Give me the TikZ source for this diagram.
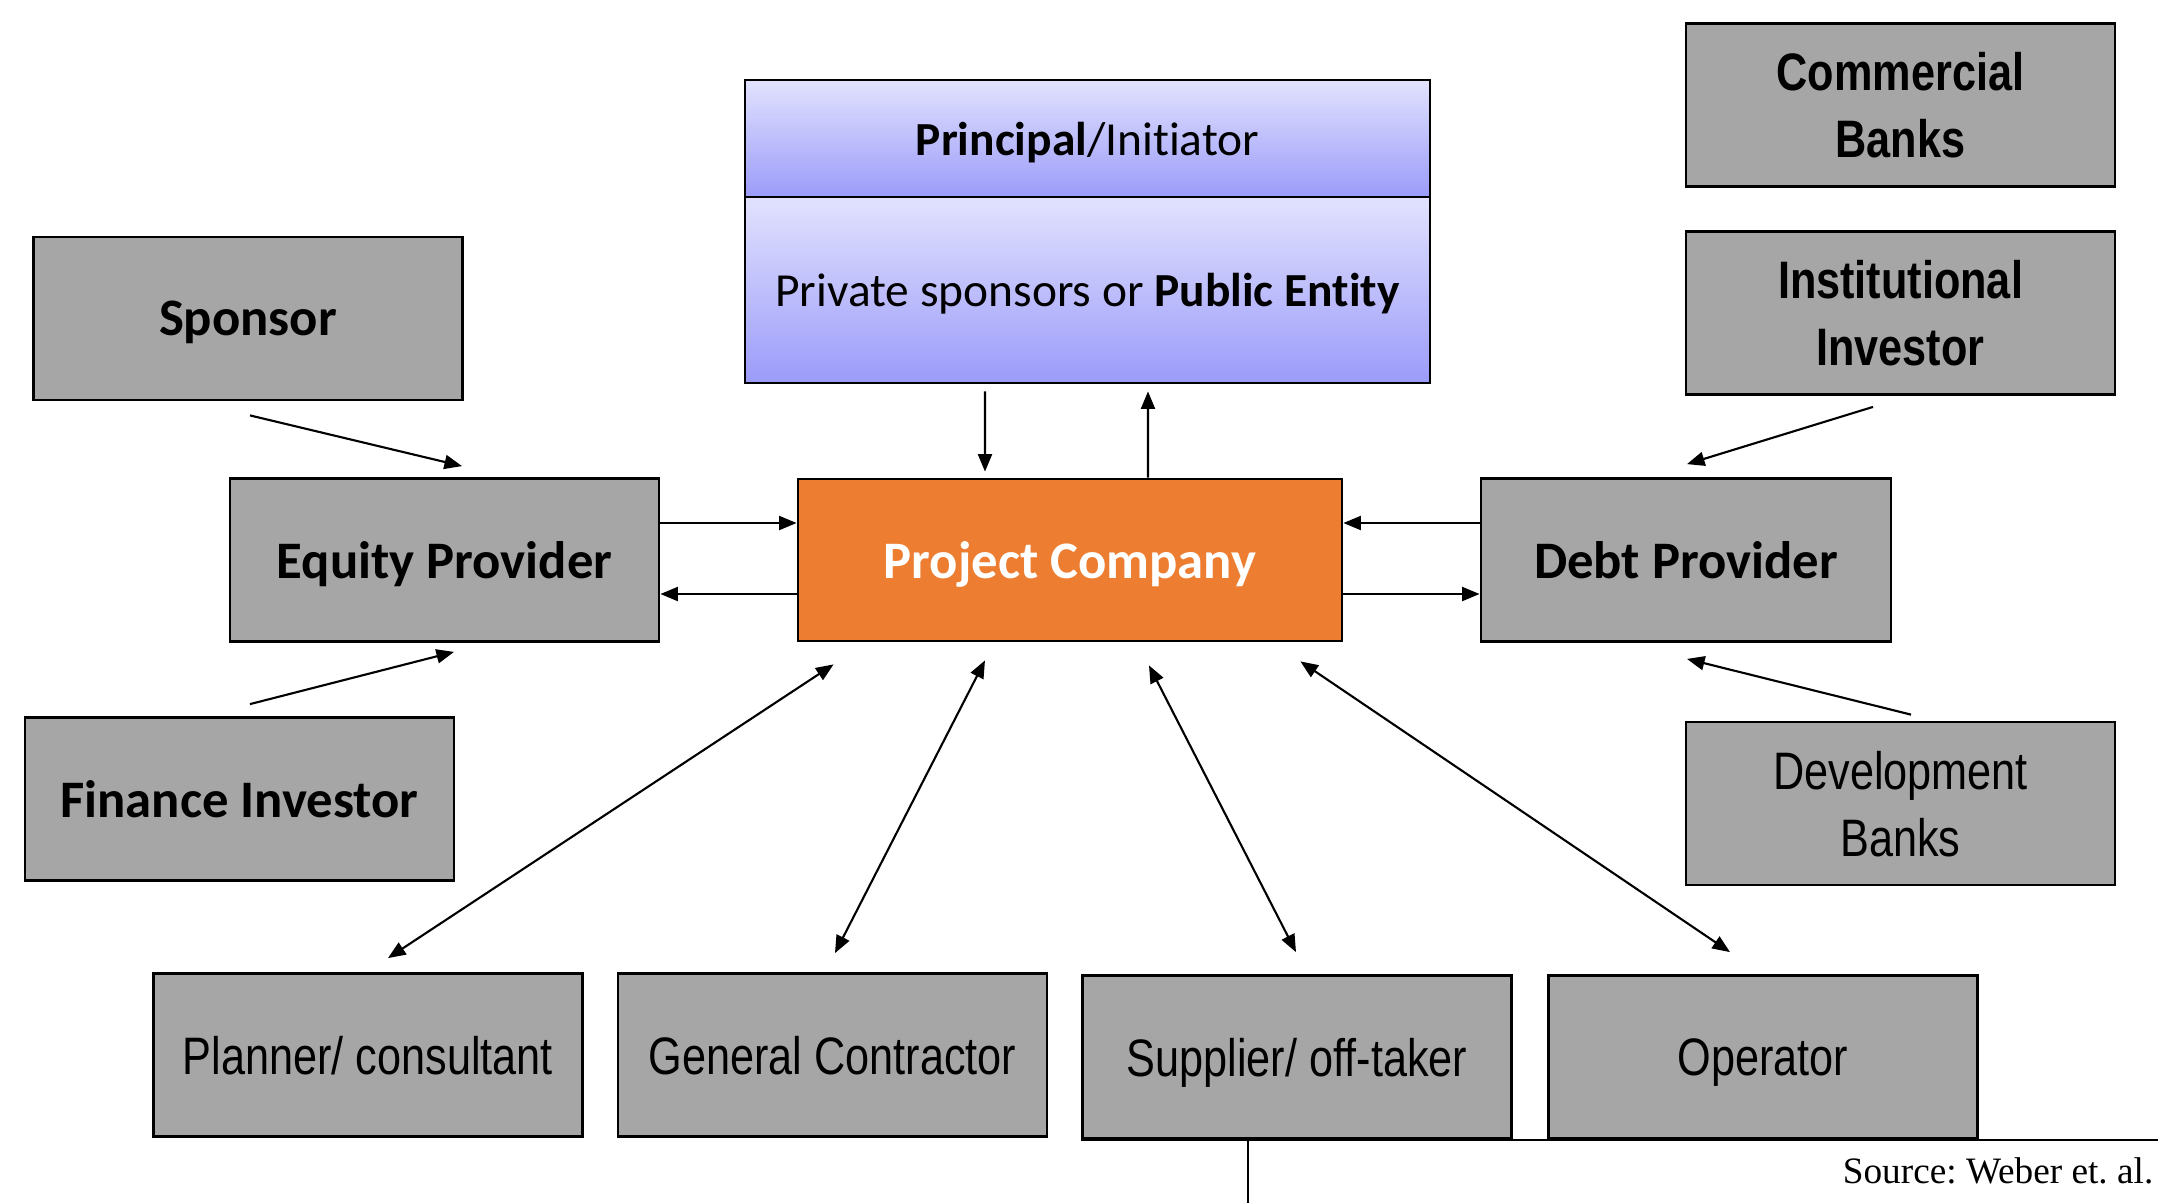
\documentclass[tikz,border=0pt]{standalone}
\usepackage{fontspec}
\setmainfont{Carlito}[Ligatures=NoCommon]
\newfontfamily\narrowfont[FakeStretch=0.82]{Liberation Sans}
\newfontfamily\sourcefont{Liberation Serif}
\usepackage{tikz}
\usetikzlibrary{arrows.meta}
\usetikzlibrary{calc}
\definecolor{boxgray}{HTML}{A6A6A6}
\definecolor{pcorange}{HTML}{ED7D31}
\definecolor{lavlight}{HTML}{E2E2FE}
\definecolor{lavdeep}{HTML}{9B9BFA}

\begin{document}
\begin{tikzpicture}[
    graybox/.style={draw=black, line width=0.8pt, fill=boxgray, minimum width=4.29cm, minimum height=1.63cm, align=center, inner sep=0pt, text depth=0pt},
    boldlabel/.style={font=\fontsize{15}{19}\selectfont\bfseries},
    narrowlabel/.style={font=\narrowfont\fontsize{15}{19}\selectfont},
    narrowbold/.style={font=\narrowfont\fontsize{15}{19}\selectfont\bfseries},
    lilac/.style={draw=black, line width=0.8pt, top color=lavlight, bottom color=lavdeep, minimum width=6.85cm, inner sep=0pt, text depth=0pt, font=\fontsize{13.5}{16}\selectfont},
    flow/.style={-{Triangle[length=5pt,width=4pt]}, line width=0.6pt},
    twoway/.style={{Triangle[length=5pt,width=4pt]}-{Triangle[length=5pt,width=4pt]}, line width=0.6pt}
]
    \useasboundingbox (0,0) rectangle (21.58,-12.03);

    % Draw the principal box
    \node[lilac, minimum height=1.17cm] (princtop) at (10.875,-1.385) {\textbf{Principal}/Initiator};
    \node[lilac, minimum height=1.86cm] (princ) at (10.875,-2.90) {Private sponsors or \textbf{Public Entity}};

    % Draw the project company
    \node[draw=black, line width=0.8pt, fill=pcorange, minimum width=5.44cm, minimum height=1.62cm, text depth=0pt, text=white, boldlabel] (pc) at (10.70,-5.60) {Project Company};

    % Draw the equity side
    \node[graybox, boldlabel] (sponsor) at (2.48,-3.185) {Sponsor};
    \node[graybox, boldlabel] (equity) at (4.445,-5.60) {Equity Provider};
    \node[graybox, boldlabel] (finance) at (2.395,-7.99) {Finance Investor};

    % Draw the debt side
    \node[graybox, boldlabel, minimum width=4.10cm] (debt) at (16.86,-5.60) {Debt Provider};
    \node[graybox, narrowbold] (commercial) at (19.005,-1.05) {Commercial\\Banks};
    \node[graybox, narrowbold] (institutional) at (19.005,-3.13) {Institutional\\Investor};
    \node[graybox, narrowlabel] (development) at (19.005,-8.035) {Development\\Banks};

    % Draw the bottom row
    \node[graybox, narrowlabel] (planner) at (3.68,-10.55) {Planner/ consultant};
    \node[graybox, narrowlabel] (contractor) at (8.325,-10.55) {General Contractor};
    \node[graybox, narrowlabel] (supplier) at (12.97,-10.57) {Supplier/ off-taker};
    \node[graybox, narrowlabel] (operator) at (17.63,-10.57) {Operator};

    % Draw the arrows to the equity provider
    \draw[flow] ([xshift=0.02cm,yshift=-0.14cm]sponsor.south) -- ([xshift=0.175cm,yshift=0.11cm]equity.north);
    \draw[flow] ([xshift=0.105cm,yshift=0.12cm]finance.north) -- ([xshift=0.095cm,yshift=-0.09cm]equity.south);
    \draw[flow] ([yshift=0.37cm]equity.east) -- ([yshift=0.37cm]pc.west);
    \draw[flow] ([yshift=-0.34cm]pc.west) -- ([yshift=-0.34cm]equity.east);

    % Draw the arrows to the debt provider
    \draw[flow] ([xshift=-0.275cm,yshift=-0.11cm]institutional.south) -- ([xshift=0.01cm,yshift=0.13cm]debt.north);
    \draw[flow] ([xshift=0.105cm,yshift=0.06cm]development.north) -- ([xshift=0.01cm,yshift=-0.16cm]debt.south);
    \draw[flow] ([yshift=0.37cm]debt.west) -- ([yshift=0.37cm]pc.east);
    \draw[flow] ([yshift=-0.34cm]pc.east) -- ([yshift=-0.34cm]debt.west);

    % Draw the arrows between principal and project company
    \draw[flow] ([xshift=-1.025cm,yshift=-0.07cm]princ.south) -- ([xshift=-0.85cm,yshift=0.06cm]pc.north);
    \draw[flow] ([xshift=0.78cm]pc.north) -- ([xshift=0.605cm,yshift=-0.07cm]princ.south);

    % Draw the two-way arrows to the bottom row
    \draw[twoway] ([xshift=0.37cm,yshift=-0.22cm]pc.south west) -- ([xshift=0.20cm,yshift=0.14cm]planner.north);
    \draw[twoway] ([xshift=-0.85cm,yshift=-0.18cm]pc.south) -- ([xshift=0.025cm,yshift=0.19cm]contractor.north);
    \draw[twoway] ([xshift=0.79cm,yshift=-0.23cm]pc.south) -- ([xshift=-0.01cm,yshift=0.22cm]supplier.north);
    \draw[twoway] ([xshift=-0.43cm,yshift=-0.19cm]pc.south east) -- ([xshift=-0.33cm,yshift=0.22cm]operator.north);

    % Source line
    \coordinate (ruleend) at (21.58,-11.40);
    \coordinate (drop) at (12.48,-12.03);
    \draw[line width=0.4pt] (supplier.south west) -- (supplier.south west -| ruleend);
    \draw[line width=0.4pt] (drop |- supplier.south) -- (drop);
    \node[anchor=base east, inner sep=0pt, font=\sourcefont\fontsize{10.6}{12}\selectfont\frenchspacing] (source) at (21.54,-11.83) {Source: Weber et. al.};
\end{tikzpicture}
\end{document}
